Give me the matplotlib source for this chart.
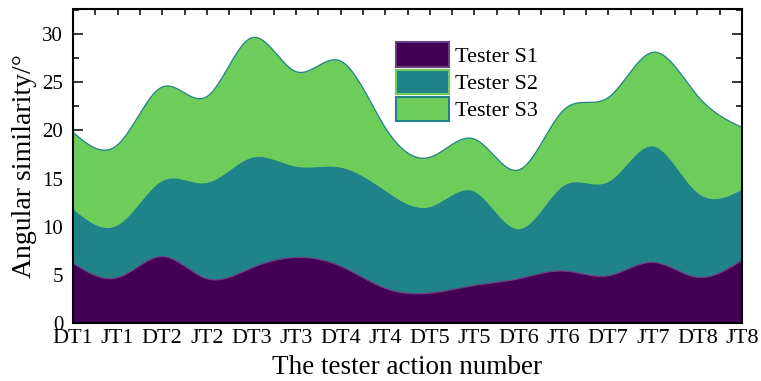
import numpy as np
import matplotlib
matplotlib.use("Agg")
import matplotlib.pyplot as plt
from matplotlib.patches import Patch
from matplotlib.ticker import MultipleLocator

plt.rcParams["font.family"] = ["Liberation Serif", "DejaVu Serif"]

actions = ["DT1", "JT1", "DT2", "JT2", "DT3", "JT3", "DT4", "JT4",
           "DT5", "JT5", "DT6", "JT6", "DT7", "JT7", "DT8", "JT8"]
# Angular similarity per tester (stacked)
s1 = [6.2, 4.7, 6.9, 4.6, 5.7, 6.8, 5.9, 3.6, 3.1, 3.9, 4.6, 5.4, 4.9, 6.3, 4.75, 6.5]
s2 = [5.7, 5.5, 7.9, 10.0, 11.5, 9.5, 10.3, 10.2, 9.0, 9.8, 5.2, 8.9, 9.8, 12.1, 8.85, 7.4]
s3 = [7.9, 8.3, 9.7, 8.9, 12.4, 9.8, 11.0, 6.5, 5.1, 5.4, 6.1, 7.8, 8.7, 9.7, 10.0, 6.4]
series_names = ["Tester S1", "Tester S2", "Tester S3"]
fill_colors = ["#440154", "#21838A", "#6CCD5A"]
edge_colors = ["#6A3E80", "#6CCD5A", "#21838A"]


def natural_spline(x, y, xs):
    """Evaluate a natural cubic spline through (x, y) at xs."""
    x = np.asarray(x, float)
    y = np.asarray(y, float)
    n = len(x)
    h = np.diff(x)
    A = np.zeros((n, n))
    b = np.zeros(n)
    A[0, 0] = A[-1, -1] = 1.0
    for i in range(1, n - 1):
        A[i, i - 1] = h[i - 1]
        A[i, i] = 2 * (h[i - 1] + h[i])
        A[i, i + 1] = h[i]
        b[i] = 3 * ((y[i + 1] - y[i]) / h[i] - (y[i] - y[i - 1]) / h[i - 1])
    c = np.linalg.solve(A, b)
    idx = np.clip(np.searchsorted(x, xs) - 1, 0, n - 2)
    dx = xs - x[idx]
    bi = (y[idx + 1] - y[idx]) / h[idx] - h[idx] * (2 * c[idx] + c[idx + 1]) / 3
    di = (c[idx + 1] - c[idx]) / (3 * h[idx])
    return y[idx] + bi * dx + c[idx] * dx ** 2 + di * dx ** 3


x = np.arange(len(actions))
xs = np.linspace(0, len(actions) - 1, 1200)
cum = np.cumsum(np.vstack([s1, s2, s3]), axis=0)
curves = [natural_spline(x, row, xs) for row in cum]

fig = plt.figure(figsize=(7.61, 3.81), dpi=100)
ax = fig.add_axes([73 / 761, 1 - 323 / 381, (742 - 73) / 761, (323 - 9) / 381])

lower = np.zeros_like(xs)
for curve, fc in zip(curves, fill_colors):
    ax.fill_between(xs, lower, curve, facecolor=fc, linewidth=0, zorder=2)
    lower = curve
for curve, ec in zip(curves, edge_colors):
    ax.plot(xs, curve, color=ec, linewidth=0.9, zorder=3)

ax.set_xlim(0, len(actions) - 1)
ax.set_ylim(0, 32.6)
ax.set_xticks(x)
ax.set_xticklabels(actions)
ax.xaxis.set_minor_locator(MultipleLocator(0.5))
ax.yaxis.set_major_locator(MultipleLocator(5))
ax.yaxis.set_minor_locator(MultipleLocator(2.5))

for sp in ax.spines.values():
    sp.set_linewidth(1.5)
    sp.set_zorder(5)
ax.tick_params(which="both", direction="in", top=True, right=True, width=1.1,
               zorder=6)
ax.tick_params(axis="x", which="major", length=4.5, pad=4.5, labelsize=16)
ax.tick_params(axis="x", which="minor", length=4.5)
ax.tick_params(axis="y", which="major", length=7.5, pad=7, labelsize=15)
ax.tick_params(axis="y", which="minor", length=4)

ax.set_xlabel("The tester action number", fontsize=19.5, labelpad=4.5)
ax.set_ylabel("Angular similarity/°", fontsize=20, labelpad=4)

handles = [Patch(facecolor=fc, edgecolor=ec, linewidth=1.5)
           for fc, ec in zip(fill_colors, edge_colors)]
ax.legend(handles, series_names, loc="upper left",
          bbox_to_anchor=((392 - 73) / 669, (323 - 38) / 314),
          frameon=False, fontsize=16, handlelength=2.35, handleheight=1.3,
          handletextpad=0.3, labelspacing=0.12, borderaxespad=0,
          borderpad=0.2)

fig.savefig("out.png", dpi=100)
